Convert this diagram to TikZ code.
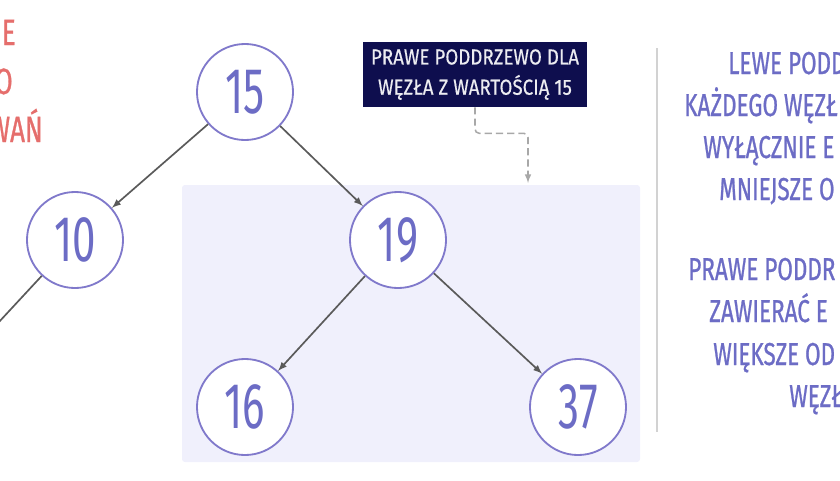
\documentclass[tikz,border=0pt]{standalone}
\usepackage{fontspec}
\setmainfont{Fira Sans}
\newfontfamily\numfont[FakeStretch=0.65]{Fira Sans}
\newfontfamily\capfont[FakeStretch=0.71,FakeBold=0.8]{Fira Sans}
\newfontfamily\boxfont[FakeStretch=0.86,FakeBold=0.4]{Fira Sans}
\usetikzlibrary{arrows,positioning,calc}
\definecolor{nodeline}{HTML}{8079CB}
\definecolor{numtext}{HTML}{6C6CC5}
\definecolor{edgegray}{HTML}{5A5A5A}
\definecolor{hintgray}{HTML}{A8A8A8}
\definecolor{subtreebg}{HTML}{F0F0FC}
\definecolor{navy}{HTML}{0E0E4E}
\definecolor{salmon}{HTML}{E56E6C}
\definecolor{sepgray}{HTML}{D2D2D2}

\begin{document}
\begin{tikzpicture}[x=0.025cm,y=-0.025cm,
  treenode/.style={circle,draw=nodeline,line width=1.3pt,fill=white,minimum size=2.4cm,inner sep=0pt,text=numtext,font=\numfont\fontsize{46}{46}\selectfont},
  edge/.style={-latex,draw=edgegray,line width=1.2pt},
  hint/.style={-latex,draw=hintgray,line width=1.1pt,dash pattern=on 5pt off 3pt,rounded corners=3pt},
  labelbox/.style={rectangle,fill=navy,text=white!92!navy,minimum width=5.6cm,minimum height=1.625cm,align=center,inner sep=2pt,font=\boxfont\fontsize{15.5}{21.5}\selectfont},
  rtext/.style={anchor=base west,inner sep=0pt,text=numtext,font=\capfont\fontsize{22.5}{22.5}\selectfont},
  ltext/.style={anchor=base east,inner sep=0pt,text=salmon,font=\capfont\fontsize{26}{26}\selectfont}]
\useasboundingbox (0,0) rectangle (840,480);
\clip (0,0) rectangle (840,480);

% subtree background
\fill[subtreebg,rounded corners=2pt] (182,185) rectangle (640,462);

% tree nodes
\node[treenode, name=n15] at (245,92) {15};
\node[treenode, name=n10] at (75,240) {10};
\node[treenode, name=n19] at (398,240) {19};
\node[treenode, name=n16] at (245,407) {16};
\node[treenode, name=n37] at (578,407) {37};
\coordinate (n10out) at (-40,364);

% edges
\draw[edge] (n15) -- (n10);
\draw[edge] (n15) -- (n19);
\draw[edge] (n19) -- (n16);
\draw[edge] (n19) -- (n37);
\draw[edgegray,line width=1.2pt] (n10) -- (n10out);

% label for the right subtree
\node[labelbox, name=lbl] at (475,74.5) {PRAWE PODDRZEWO DLA\\WĘZŁA Z WARTOŚCIĄ 15};
\coordinate (subtop) at (528,183);
\draw[hint] (lbl.south) -- ++(0,26) -| (subtop);

% separator
\draw[sepgray,line width=1.4pt] (657,48) -- (657,432);

% text on the right
\foreach \x/\y/\t in {728/74/LEWE PODD, 684/116/KAŻDEGO WĘZŁ, 703/158/WYŁĄCZNIE E, 719/200/MNIEJSZE O,
  688/280/PRAWE PODDR, 709/322/ZAWIERAĆ E, 713/365/WIĘKSZE OD, 789/407/WĘZŁ}
  \node[rtext] at (\x,\y) {\t};

% text on the left
\node[ltext, name=lefta] at (16,45) {E};
\node[ltext, name=leftb] at (13,94) {O};
\node[ltext, name=leftc] at (43,142) {WAŃ};
\end{tikzpicture}
\end{document}
